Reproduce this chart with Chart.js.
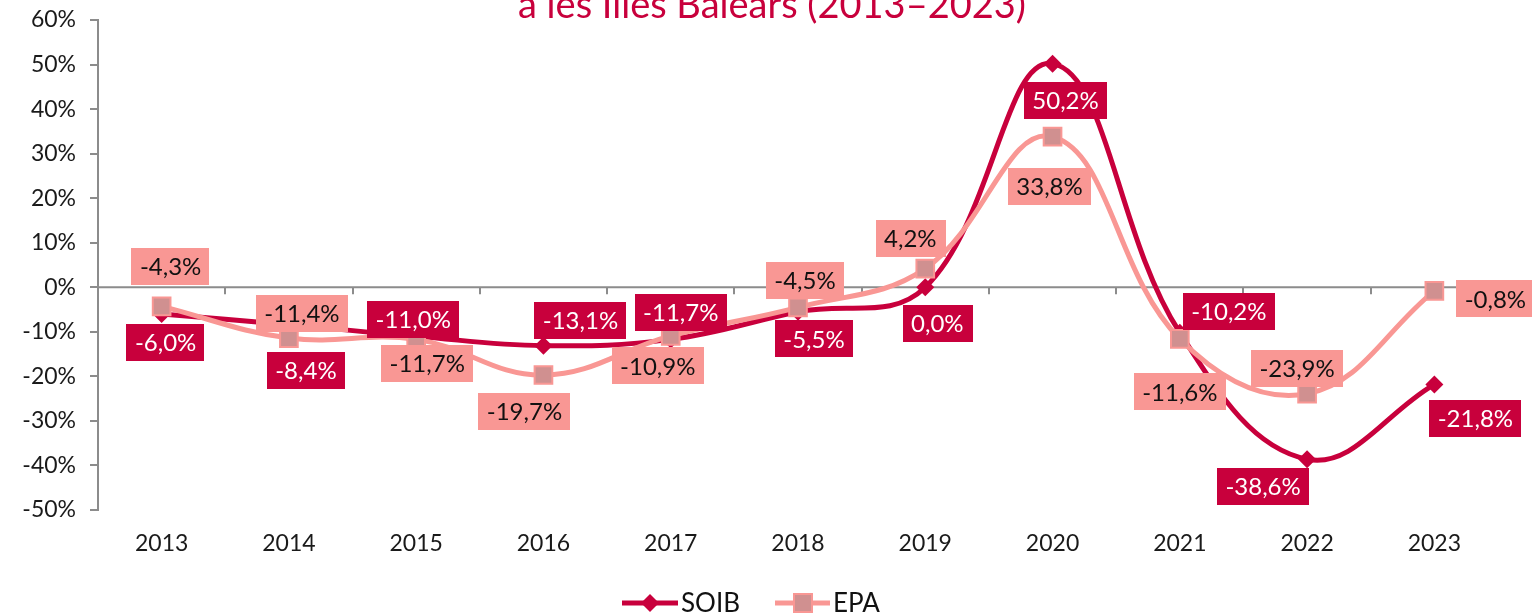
<!DOCTYPE html>
<html>
<head>
<meta charset="utf-8">
<script src="https://cdn.jsdelivr.net/npm/chart.js@4"></script>
<style>
  html, body { margin: 0; padding: 0; background: #fff; }
</style>
</head>
<body>
<canvas id="chart" width="1532" height="615"></canvas>
<script>
// data
const years = ['2013', '2014', '2015', '2016', '2017', '2018', '2019', '2020', '2021', '2022', '2023'];
const soib = [-6.0, -8.4, -11.0, -13.1, -11.7, -5.5, 0.0, 50.2, -10.2, -38.6, -21.8];
const epa = [-4.3, -11.4, -11.7, -19.7, -10.9, -4.5, 4.2, 33.8, -11.6, -23.9, -0.8];
const titleText = 'a les Illes Balears (2013\u20132023)';

// label box offsets from each point (px), kept apart from the values
const soibLabelPos = [[4, 28], [17, 46], [-3, -17], [37, -25], [10, -27], [16, 27], [12, 36], [13, 37], [49, -21], [-44, 27], [41, 34]];
const epaLabelPos = [[9, -40], [13, -25], [11, 24], [-19, 36], [-13, 30], [7, -27], [-15, -30], [-3, 50], [0, 53], [-10, -25], [61, 8]];

const crimson = '#C8003C';
const salmon = '#F99794';
const axisGrey = '#8C8C8C';
const FONT = 'Lato, "Open Sans", sans-serif';

function fmt(v) {
  return v.toFixed(1).replace('.', ',') + '%';
}

// zero line with Excel-style ticks between categories
const zeroAxis = {
  id: 'zeroAxis',
  beforeDatasetsDraw(chart) {
    const { ctx, chartArea, scales } = chart;
    const y0 = scales.y.getPixelForValue(0);
    const step = (chartArea.right - chartArea.left) / years.length;
    ctx.save();
    ctx.strokeStyle = axisGrey;
    ctx.lineWidth = 2;
    ctx.beginPath();
    ctx.moveTo(chartArea.left, y0);
    ctx.lineTo(chartArea.right, y0);
    for (let k = 1; k <= years.length; k++) {
      const x = Math.round(chartArea.left + k * step);
      ctx.moveTo(x, y0);
      ctx.lineTo(x, y0 + 7);
    }
    ctx.stroke();
    ctx.restore();
  }
};

// boxed value labels
const boxLabels = {
  id: 'boxLabels',
  afterDatasetsDraw(chart) {
    const { ctx } = chart;
    const sets = [
      { idx: 0, vals: soib, pos: soibLabelPos, fill: crimson, text: '#ffffff' },
      { idx: 1, vals: epa, pos: epaLabelPos, fill: salmon, text: '#111111' }
    ];
    ctx.save();
    ctx.font = '24px ' + FONT;
    ctx.textAlign = 'center';
    ctx.textBaseline = 'middle';
    sets.forEach(s => {
      const meta = chart.getDatasetMeta(s.idx);
      meta.data.forEach((pt, j) => {
        const label = fmt(s.vals[j]);
        const cx = pt.x + s.pos[j][0];
        const cy = pt.y + s.pos[j][1];
        const w = ctx.measureText(label).width + 17;
        const h = 37;
        ctx.fillStyle = s.fill;
        ctx.fillRect(Math.round(cx - w / 2), Math.round(cy - h / 2), Math.round(w), h);
        ctx.fillStyle = s.text;
        ctx.fillText(label, cx, cy + 1);
      });
    });
    ctx.restore();
  }
};

// title (first line falls outside the picture) and legend
const extras = {
  id: 'extras',
  afterDraw(chart) {
    const { ctx } = chart;
    ctx.save();
    ctx.fillStyle = crimson;
    ctx.font = '38px ' + FONT;
    ctx.textAlign = 'center';
    ctx.textBaseline = 'alphabetic';
    ctx.fillText(titleText, 772, 18);

    const ly = 603;
    ctx.font = '26px ' + FONT;
    ctx.textAlign = 'left';
    ctx.textBaseline = 'middle';
    // SOIB
    ctx.strokeStyle = crimson;
    ctx.lineWidth = 5;
    ctx.beginPath(); ctx.moveTo(622, ly); ctx.lineTo(678, ly); ctx.stroke();
    ctx.fillStyle = crimson;
    ctx.beginPath();
    ctx.moveTo(650, ly - 9); ctx.lineTo(659, ly); ctx.lineTo(650, ly + 9); ctx.lineTo(641, ly);
    ctx.closePath(); ctx.fill();
    ctx.fillStyle = '#111';
    ctx.fillText('SOIB', 681, ly + 1);
    // EPA
    ctx.strokeStyle = salmon;
    ctx.beginPath(); ctx.moveTo(775, ly); ctx.lineTo(830, ly); ctx.stroke();
    ctx.fillStyle = '#D09090';
    ctx.fillRect(794, ly - 9, 18, 18);
    ctx.lineWidth = 2;
    ctx.strokeRect(794, ly - 9, 18, 18);
    ctx.fillStyle = '#111';
    ctx.fillText('EPA', 833, ly + 1);
    ctx.restore();
  }
};

new Chart(document.getElementById('chart'), {
  type: 'line',
  data: {
    labels: years,
    datasets: [
      {
        label: 'SOIB',
        data: soib,
        borderColor: crimson,
        backgroundColor: crimson,
        borderWidth: 5,
        tension: 0.4,
        pointStyle: 'rectRot',
        pointRadius: 9,
        pointBorderWidth: 0,
        order: 1
      },
      {
        label: 'EPA',
        data: epa,
        borderColor: salmon,
        backgroundColor: '#D09090',
        borderWidth: 5,
        tension: 0.4,
        pointStyle: 'rect',
        pointRadius: 12.5,
        pointBorderColor: salmon,
        pointBorderWidth: 2,
        order: 0
      }
    ]
  },
  options: {
    responsive: false,
    animation: false,
    layout: { padding: { top: 20, right: 34, bottom: 50, left: 0 } },
    plugins: {
      legend: { display: false },
      tooltip: { enabled: false }
    },
    scales: {
      x: {
        offset: true,
        grid: { display: false, drawTicks: false },
        border: { display: false },
        ticks: { color: '#1a1a1a', font: { family: FONT, size: 23 }, padding: 20 },
        afterFit(scale) { scale.height = 55; }
      },
      y: {
        min: -50,
        max: 60,
        ticks: {
          stepSize: 10,
          color: '#1a1a1a',
          font: { family: FONT, size: 23 },
          padding: 14,
          callback: v => v + '%'
        },
        grid: { drawOnChartArea: false, color: axisGrey, lineWidth: 2, tickLength: 8 },
        border: { color: axisGrey, width: 2 },
        afterFit(scale) {
          scale.width = 98;
          scale.paddingTop = 0;
          scale.paddingBottom = 0;
        }
      }
    }
  },
  plugins: [zeroAxis, boxLabels, extras]
});
</script>
</body>
</html>
